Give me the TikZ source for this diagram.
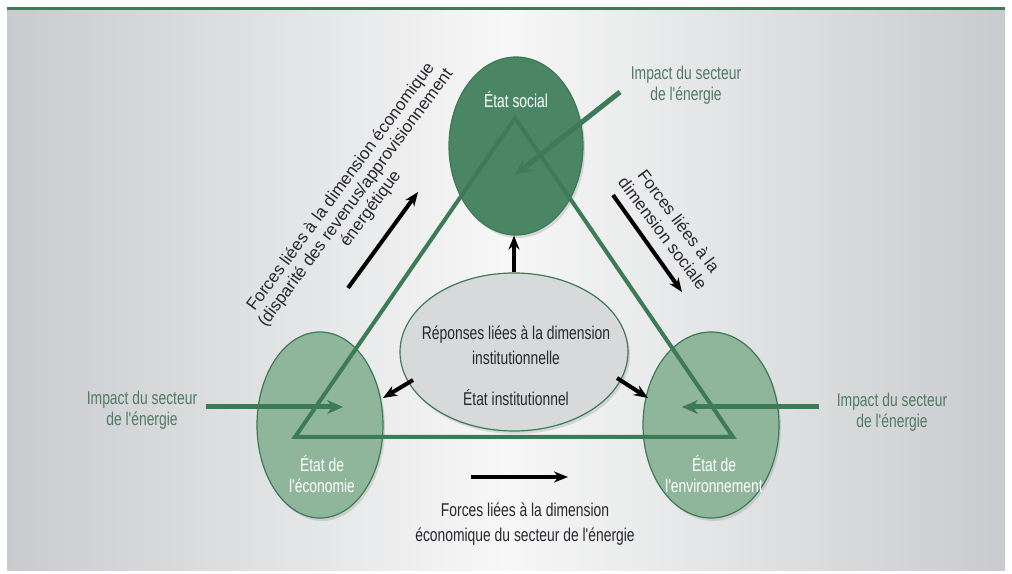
\documentclass[tikz,border=0pt]{standalone}
\usepackage{fontspec}
\setmainfont{Liberation Sans}
\newfontfamily\tallfont{Liberation Sans}[FakeStretch=0.75]
\usetikzlibrary{shapes.geometric,arrows.meta,shadows}

\definecolor{dkgreen}{RGB}{74,133,100}
\definecolor{ltgreen}{RGB}{143,182,155}
\definecolor{linegreen}{RGB}{61,122,86}
\definecolor{txtgreen}{RGB}{80,122,100}
\definecolor{ellgray}{RGB}{216,217,219}
\definecolor{edgegray}{RGB}{201,203,206}
\definecolor{midgray}{RGB}{247,247,247}
\definecolor{txtdark}{RGB}{40,40,45}

\begin{document}
\begin{tikzpicture}[x=1pt,y=1pt,
  stateell/.style={ellipse, draw=linegreen, line width=1.2pt, inner sep=0pt,
    drop shadow={shadow xshift=2pt, shadow yshift=-3pt, opacity=0.25}},
  whitetxt/.style={text=white, font=\tallfont\fontsize{18.5}{21}\selectfont, align=center, inner sep=0pt},
  darktxt/.style={text=txtdark, font=\tallfont\fontsize{18.5}{25}\selectfont, align=center, inner sep=0pt},
  impacttxt/.style={text=txtgreen, font=\tallfont\fontsize{18.5}{21}\selectfont, align=center, inner sep=0pt},
  rottxt/.style={text=txtdark, align=center, inner sep=0pt},
  trib/.style={draw=linegreen, line width=4pt, line join=miter},
  impactarrow/.style={draw=linegreen, line width=5pt, -{Stealth[length=16pt,width=14pt]}},
  forcearrow/.style={draw=black, line width=4pt, -{Stealth[length=14pt,width=11pt]}},
]
\useasboundingbox (0,0) rectangle (1012,573);
\fill[left color=edgegray, right color=edgegray, middle color=midgray] (7,3) rectangle (1005,563);
\draw[line width=3pt, linegreen] (7,564.5) -- (1005,564.5);

% state ellipses
\node[stateell, fill=dkgreen, minimum width=134pt, minimum height=178pt] (soc) at (516,427) {};
\node[stateell, fill=ltgreen, minimum width=126pt, minimum height=186pt] (eco) at (320,148) {};
\node[stateell, fill=ltgreen, minimum width=136pt, minimum height=186pt] (env) at (711,148) {};
\node[stateell, fill=ellgray, minimum width=228pt, minimum height=158pt] (inst) at (514,221) {};

% triangle
\coordinate (ta) at (515,455);
\coordinate (tl) at (295,136);
\coordinate (tr) at (733,136);
\draw[trib] (ta) -- (tl) -- (tr) -- cycle;

% impact arrows
\coordinate (ist) at (620,481);
\coordinate (iet) at (515,398);
\draw[impactarrow] (ist) -- (iet);
\coordinate (ils) at (206,166);
\coordinate (ile) at (343,166);
\draw[impactarrow] (ils) -- (ile);
\coordinate (irs) at (819,166);
\coordinate (ire) at (682,166);
\draw[impactarrow] (irs) -- (ire);

% force arrows
\draw[forcearrow] (inst.north) -- (inst.north |- soc.south);
\coordinate (fls) at (413,193);
\coordinate (fle) at (383,175);
\draw[forcearrow] (fls) -- (fle);
\coordinate (frs) at (617,195);
\coordinate (fre) at (648,175);
\draw[forcearrow] (frs) -- (fre);
\coordinate (d1s) at (348,285);
\coordinate (d1e) at (418,381);
\draw[forcearrow] (d1s) -- (d1e);
\coordinate (d2s) at (613,378);
\coordinate (d2e) at (682,281);
\draw[forcearrow] (d2s) -- (d2e);
\coordinate (bs) at (471,96);
\coordinate (be) at (568,96);
\draw[forcearrow] (bs) -- (be);

% texts
\node[whitetxt] (soct) at (516,473) {État social};
\node[whitetxt] (ecot) at (322,99) {État de\\l'économie};
\node[whitetxt] (envt) at (714,99) {État de\\l'environnement};
\node[darktxt] (instt1) at (516,228) {Réponses liées à la dimension\\institutionnelle};
\node[darktxt] (instt2) at (516,175) {État institutionnel};
\node[impacttxt] (imp1) at (686,488) {Impact du secteur\\de l'énergie};
\node[impacttxt] (imp2) at (142,163) {Impact du secteur\\de l'énergie};
\node[impacttxt] (imp3) at (892,161) {Impact du secteur\\de l'énergie};
\node[darktxt] (botxt) at (525,49) {Forces liées à la dimension\\économique du secteur de l'énergie};
\node[rottxt, font=\fontsize{17}{18.5}\selectfont, rotate=53.6] (rot1) at (356,375) {Forces liées à la dimension économique\\(disparité des revenus/approvisionnement\\énergétique};
\node[rottxt, font=\fontsize{17}{20}\selectfont, rotate=-53] (rot2) at (671,346) {Forces liées à la\\dimension sociale};
\end{tikzpicture}
\end{document}
